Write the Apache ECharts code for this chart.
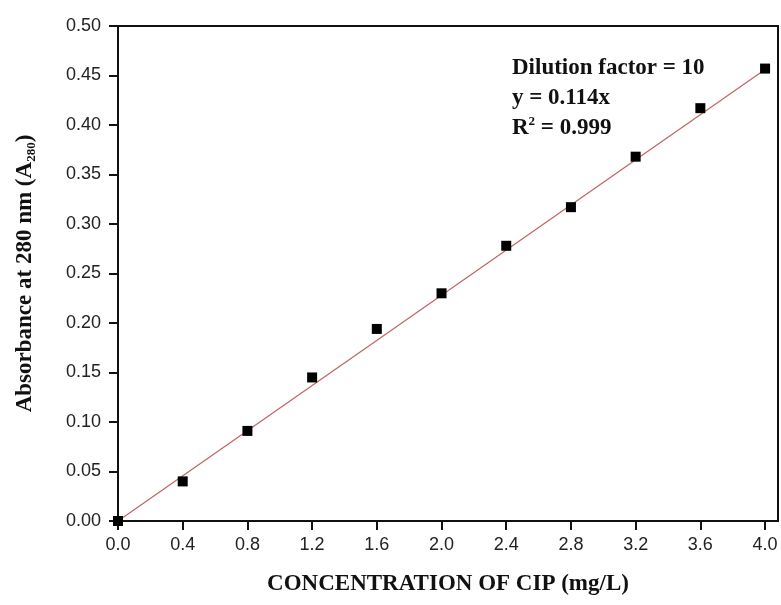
<!DOCTYPE html>
<html>
<head>
<meta charset="utf-8">
<script src="https://cdn.jsdelivr.net/npm/echarts@6/dist/echarts.min.js"></script>
<style>
  html, body { margin: 0; padding: 0; background: #fff; }
  #chart { width: 781px; height: 605px; }
</style>
</head>
<body>
<div id="chart"></div>
<script>
// measured points
const concentration = [0.0, 0.4, 0.8, 1.2, 1.6, 2.0, 2.4, 2.8, 3.2, 3.6, 4.0]
const absorbance = [0.0, 0.040, 0.091, 0.145, 0.194, 0.230, 0.278, 0.317, 0.368, 0.417, 0.457]

// linear fit through origin
const fitSlope = 0.114
const fitRange = [0.0, 4.0]

// axis ticks
const xTicks = [0.0, 0.4, 0.8, 1.2, 1.6, 2.0, 2.4, 2.8, 3.2, 3.6, 4.0]
const yTicks = [0.00, 0.05, 0.10, 0.15, 0.20, 0.25, 0.30, 0.35, 0.40, 0.45, 0.50]

const serif = '"Liberation Serif", "Times New Roman", serif'
const sans = '"Liberation Sans", Arial, sans-serif'

let myChart = echarts.init(document.getElementById('chart'))

const points = concentration.map((x, i) => [x, absorbance[i]])
const fitLine = fitRange.map(x => [x, fitSlope * x])

myChart.setOption({
  animation: false,
  grid: {
    left: 118,
    right: 3,
    top: 26,
    bottom: 84,
    show: true,
    borderColor: '#111',
    borderWidth: 2
  },
  xAxis: {
    type: 'value',
    min: 0,
    max: 4.08,
    interval: 0.4,
    splitLine: {show: false},
    axisLine: {show: true, lineStyle: {color: '#111', width: 2}},
    axisTick: {
      show: true, inside: false, length: 9,
      lineStyle: {color: '#111', width: 2},
      customValues: xTicks
    },
    axisLabel: {
      customValues: xTicks,
      formatter: v => v.toFixed(1),
      color: '#222',
      fontFamily: sans,
      fontSize: 18,
      margin: 15
    },
    name: 'CONCENTRATION OF CIP (mg/L)',
    nameLocation: 'middle',
    nameGap: 52,
    nameTextStyle: {
      fontFamily: serif,
      fontWeight: 'bold',
      fontSize: 23,
      color: '#111'
    }
  },
  yAxis: {
    type: 'value',
    min: 0,
    max: 0.5,
    interval: 0.05,
    splitLine: {show: false},
    axisLine: {show: true, lineStyle: {color: '#111', width: 2}},
    axisTick: {
      show: true, inside: false, length: 9,
      lineStyle: {color: '#111', width: 2},
      customValues: yTicks
    },
    axisLabel: {
      customValues: yTicks,
      formatter: v => v.toFixed(2),
      color: '#222',
      fontFamily: sans,
      fontSize: 18,
      margin: 17
    },
    name: '{t|Absorbance at 280 nm (A}{s|280}{t|)}',
    nameLocation: 'middle',
    nameRotate: 90,
    nameGap: 80,
    nameTextStyle: {
      rich: {
        t: {fontFamily: serif, fontWeight: 'bold', fontSize: 23, color: '#111'},
        s: {fontFamily: serif, fontWeight: 'bold', fontSize: 13, color: '#111', padding: [12, 0, 0, 0]}
      }
    }
  },
  series: [
    {
      name: 'fit',
      type: 'line',
      data: fitLine,
      symbol: 'none',
      lineStyle: {color: '#c06464', width: 1.2},
      z: 2
    },
    {
      name: 'data',
      type: 'scatter',
      data: points,
      symbol: 'rect',
      symbolSize: 10,
      itemStyle: {color: '#000', opacity: 1},
      clip: true,
      z: 3
    }
  ],
  graphic: [
    {
      type: 'text',
      left: 512,
      top: 53,
      style: {
        text: 'Dilution factor = 10\ny = 0.114x\n{b|R}{sup|2}{b| = 0.999}',
        fontFamily: serif,
        fontWeight: 'bold',
        fontSize: 23,
        lineHeight: 30,
        fill: '#111',
        rich: {
          b: {fontFamily: serif, fontWeight: 'bold', fontSize: 23, lineHeight: 30, fill: '#111'},
          sup: {fontFamily: serif, fontWeight: 'bold', fontSize: 13, lineHeight: 30, fill: '#111', padding: [0, 0, 12, 0]}
        }
      }
    }
  ]
})
</script>
</body>
</html>
